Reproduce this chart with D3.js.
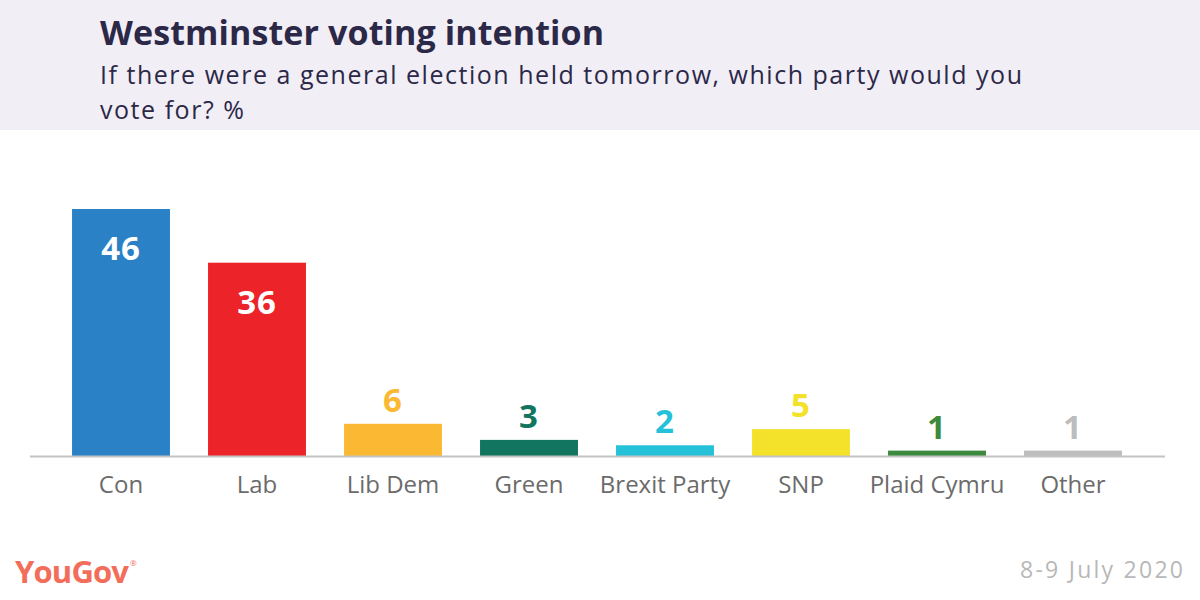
<!DOCTYPE html>
<html>
<head>
<meta charset="utf-8">
<script src="https://cdn.jsdelivr.net/npm/d3@7"></script>
<style>
  body { margin: 0; background: #fff; }
  svg { display: block; font-family: "Open Sans", Lato, sans-serif; }
</style>
</head>
<body>
<svg id="chart" width="1200" height="600"></svg>
<script>
const parties = ["Con", "Lab", "Lib Dem", "Green", "Brexit Party", "SNP", "Plaid Cymru", "Other"];
const shares = [46, 36, 6, 3, 2, 5, 1, 1];
const colours = ["#2b81c5", "#ec2328", "#fbb832", "#12755f", "#25c1d9", "#f4e22a", "#3b8a3e", "#bdbdbd"];
const insideLabel = ["Con", "Lab"];

const svg = d3.select("#chart");
const width = 1200, height = 600;
const baseY = 456;

// stretch a text to the width it has in the original (font there is wider)
function fitWidth(sel, target){
    let w = sel.node().getComputedTextLength();
    let n = sel.text().length;
    if(n > 1) sel.attr("letter-spacing", (target - w) / (n - 1));
}

// header band
svg.append("rect")
    .attr("x", 0).attr("y", 0)
    .attr("width", width).attr("height", 130)
    .attr("fill", "#f1eef6");

let title = svg.append("text")
    .attr("x", 100).attr("y", 45)
    .attr("font-size", 34).attr("font-weight", 700)
    .attr("fill", "#2c2848")
    .text("Westminster voting intention");
fitWidth(title, 504);

let sub1 = svg.append("text")
    .attr("x", 100).attr("y", 84)
    .attr("font-size", 25).attr("fill", "#2c2848")
    .text("If there were a general election held tomorrow, which party would you");
fitWidth(sub1, 922);
let sub2 = svg.append("text")
    .attr("x", 100).attr("y", 119)
    .attr("font-size", 25).attr("fill", "#2c2848")
    .text("vote for? %");
fitWidth(sub2, 144);

let x = d3.scaleBand()
    .domain(parties)
    .range([53, 1141])
    .paddingInner(0.28)
    .paddingOuter(0.14);

let y = d3.scaleLinear()
    .domain([0, 46])
    .range([baseY, 209]);

let data = parties.map((p, i) => ({party: p, value: shares[i], colour: colours[i]}));

svg.selectAll(".bar").data(data).enter()
    .append("rect")
    .attr("class", "bar")
    .attr("x", d => x(d.party))
    .attr("y", d => y(d.value))
    .attr("width", x.bandwidth())
    .attr("height", d => baseY - y(d.value))
    .attr("fill", d => d.colour);

// baseline
svg.append("line")
    .attr("x1", 30).attr("x2", 1165)
    .attr("y1", baseY + 0.5).attr("y2", baseY + 0.5)
    .attr("stroke", "#c4c4c4").attr("stroke-width", 2);

svg.selectAll(".val").data(data).enter()
    .append("text")
    .attr("class", "val")
    .attr("x", d => x(d.party) + x.bandwidth() / 2)
    .attr("y", d => insideLabel.includes(d.party) ? y(d.value) + 51 : y(d.value) - 12)
    .attr("text-anchor", "middle")
    .attr("font-size", 33).attr("font-weight", 700)
    .attr("letter-spacing", 1)
    .attr("fill", d => insideLabel.includes(d.party) ? "#fff" : d.colour)
    .text(d => d.value);

let xAxis = d3.axisBottom(x).tickSize(0).tickPadding(0);
let axisG = svg.append("g")
    .attr("transform", "translate(0," + baseY + ")")
    .call(xAxis);
axisG.select(".domain").remove();
axisG.selectAll("text")
    .attr("dy", null)
    .attr("y", 37)
    .attr("font-size", 24)
    .attr("font-family", "'Open Sans', Lato, sans-serif")
    .attr("fill", "#6b6b6b");

// footer
let logo = svg.append("text")
    .attr("x", 15).attr("y", 583)
    .attr("font-size", 31).attr("font-weight", 700)
    .attr("fill", "#f26e5a")
    .text("YouGov");
fitWidth(logo, 114);
svg.append("text")
    .attr("x", 130).attr("y", 566)
    .attr("font-size", 8)
    .attr("fill", "#f26e5a")
    .text("®");

let date = svg.append("text")
    .attr("x", 1020).attr("y", 578)
    .attr("font-size", 23)
    .attr("fill", "#b8b8b8")
    .text("8-9 July 2020");
fitWidth(date, 163);
</script>
</body>
</html>
